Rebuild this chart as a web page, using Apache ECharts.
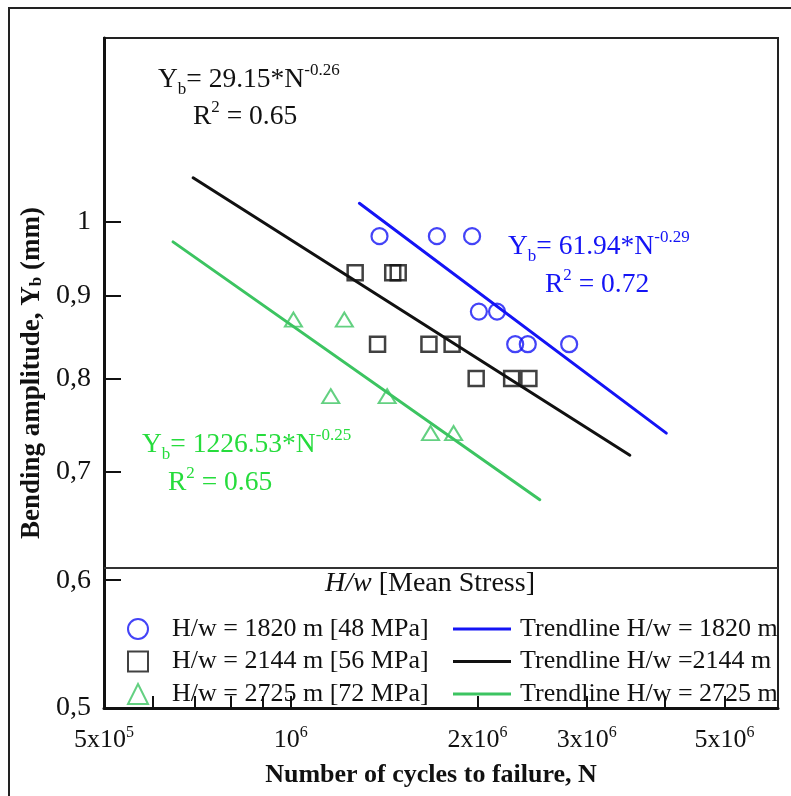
<!DOCTYPE html>
<html>
<head>
<meta charset="utf-8">
<script src="https://cdn.jsdelivr.net/npm/echarts@6/dist/echarts.min.js"></script>
<style>
  html, body { margin: 0; padding: 0; background: #fff; }
  #chart { width: 791px; height: 796px; }
</style>
</head>
<body>
<div id="chart"></div>
<script>
// Measured fatigue results: cycles to failure vs bending amplitude
const blueN  = [1.39e6, 1.72e6, 1.96e6, 2.01e6, 2.15e6, 2.30e6, 2.41e6, 2.81e6];
const blueY  = [0.98, 0.98, 0.98, 0.88, 0.88, 0.84, 0.84, 0.84];
const blackN = [1.27e6, 1.46e6, 1.49e6, 1.38e6, 1.67e6, 1.82e6, 1.99e6, 2.27e6, 2.42e6];
const blackY = [0.93, 0.93, 0.93, 0.84, 0.84, 0.84, 0.80, 0.80, 0.80];
const greenN = [1.01e6, 1.22e6, 1.16e6, 1.43e6, 1.68e6, 1.83e6];
const greenY = [0.87, 0.87, 0.78, 0.78, 0.74, 0.74];

// Power-law trendline end points
const blueTrendN  = [1.29e6, 4.03e6];
const blueTrendY  = [1.027, 0.740];
const blackTrendN = [6.96e5, 3.52e6];
const blackTrendY = [1.065, 0.717];
const greenTrendN = [6.46e5, 2.52e6];
const greenTrendY = [0.972, 0.673];

// Axis ticks and labels
const xLabelValues = [5e5, 1e6, 2e6, 3e6, 5e6];
const xLabelTexts  = ['5x10{sup|5}', '10{sup|6}', '2x10{sup|6}', '3x10{sup|6}', '5x10{sup|6}'];
const xTickValues  = [6e5, 7e5, 8e5, 9e5, 1e6, 2e6, 3e6, 4e6, 5e6];
const yLabelValues = [0.5, 0.6, 0.7, 0.8, 0.9, 1];
const yLabelTexts  = ['0,5', '0,6', '0,7', '0,8', '0,9', '1'];

// Series names
const seriesNames = [
  'H/w = 1820 m [48 MPa]',
  'H/w = 2144 m [56 MPa]',
  'H/w = 2725 m [72 MPa]',
  'Trendline H/w = 1820 m',
  'Trendline H/w =2144 m',
  'Trendline H/w = 2725 m'
];

const FONT = 'Liberation Serif';
const BLUE = '#1414f5';
const BLACK = '#111111';
const GREEN_MARK = '#3cc461';
const GREEN_TEXT = '#26dc3c';

const zip = (a, b) => a.map((v, i) => [v, b[i]]);
const labelFor = (values, texts) => v => {
  const i = values.findIndex(t => Math.abs(t - v) / t < 1e-6);
  return i >= 0 ? texts[i] : '';
};

const eqRich = color => ({
  sup: { fontFamily: FONT, fontSize: 17, lineHeight: 26, verticalAlign: 'top', color },
  sub: { fontFamily: FONT, fontSize: 17, lineHeight: 14, verticalAlign: 'bottom', color }
});
const eqText = (x, y, text, color) => ({
  type: 'text', left: x, top: y,
  style: {
    text, fill: color, font: '27.5px "' + FONT + '"', lineHeight: 36,
    rich: eqRich(color)
  }
});

const chart = echarts.init(document.getElementById('chart'), null, { renderer: 'canvas' });

const option = {
  backgroundColor: '#ffffff',
  animation: false,
  grid: {
    left: 104, top: 38, width: 674, height: 670,
    show: true, borderColor: '#222', borderWidth: 2,
    containLabel: false, outerBoundsMode: 'none'
  },
  xAxis: {
    type: 'log', logBase: 10, min: 5e5, max: 6.1e6,
    name: 'Number of cycles to failure, N',
    nameLocation: 'middle', nameGap: 54,
    nameTextStyle: { fontFamily: FONT, fontSize: 26, fontWeight: 'bold', color: '#111', padding: [0, 20, 0, 0] },
    axisLine: { show: true, lineStyle: { color: '#111', width: 3 } },
    axisTick: { show: true, inside: true, length: 12, lineStyle: { color: '#111', width: 2 }, customValues: xTickValues },
    minorTick: { show: false },
    splitLine: { show: false },
    axisLabel: {
      customValues: xLabelValues,
      formatter: labelFor(xLabelValues, xLabelTexts),
      fontFamily: FONT, fontSize: 26, color: '#111', margin: 17, lineHeight: 30,
      rich: { sup: { fontFamily: FONT, fontSize: 16, lineHeight: 22, verticalAlign: 'top', color: '#111' } }
    }
  },
  yAxis: {
    type: 'log', logBase: 10, min: 0.5, max: 1.3,
    name: 'Bending amplitude, Y{sub|b} (mm)',
    nameLocation: 'middle', nameGap: 58, nameRotate: 90,
    nameTextStyle: {
      fontFamily: FONT, fontSize: 27, fontWeight: 'bold', color: '#111',
      rich: { sub: { fontFamily: FONT, fontSize: 17, fontWeight: 'bold', lineHeight: 12, verticalAlign: 'bottom', color: '#111' } }
    },
    axisLine: { show: true, lineStyle: { color: '#111', width: 3 } },
    axisTick: { show: true, inside: true, length: 17, lineStyle: { color: '#111', width: 2 }, customValues: yLabelValues },
    minorTick: { show: false },
    splitLine: { show: false },
    axisLabel: {
      customValues: yLabelValues,
      formatter: labelFor(yLabelValues, yLabelTexts),
      fontFamily: FONT, fontSize: 28, color: '#111', margin: 13
    }
  },
  legend: [
    {
      data: seriesNames.slice(0, 3),
      orient: 'vertical', left: 122, top: 611,
      itemWidth: 20, itemHeight: 20, itemGap: 6.5,
      selectedMode: false,
      textStyle: { fontFamily: FONT, fontSize: 26, lineHeight: 26, color: '#111', padding: [0, 0, 0, 19] }
    },
    {
      data: seriesNames.slice(3),
      orient: 'vertical', left: 448, top: 611,
      itemWidth: 58, itemHeight: 3, itemGap: 6.5, icon: 'rect',
      selectedMode: false,
      textStyle: { fontFamily: FONT, fontSize: 26, lineHeight: 26, color: '#111', padding: [0, 0, 0, 4] }
    }
  ],
  graphic: [
    // outer frame
    { type: 'rect', shape: { x: 9, y: 8, width: 800, height: 800 }, style: { fill: 'none', stroke: '#222', lineWidth: 2 }, z: 0, silent: true },
    // legend box top edge
    { type: 'line', shape: { x1: 104, y1: 568, x2: 778, y2: 568 }, style: { stroke: '#333', lineWidth: 2 }, z: 5, silent: true },
    {
      type: 'text', left: 325, top: 570,
      style: {
        text: '{i|H/w} [Mean Stress]', fill: '#111', font: '28px "' + FONT + '"',
        rich: { i: { fontFamily: FONT, fontSize: 28, fontStyle: 'italic', color: '#111' } }
      }
    },
    eqText(158, 62, 'Y{sub|b}= 29.15*N{sup|-0.26}', BLACK),
    eqText(193, 99, 'R{sup|2} = 0.65', BLACK),
    eqText(508, 229, 'Y{sub|b}= 61.94*N{sup|-0.29}', BLUE),
    eqText(545, 267, 'R{sup|2} = 0.72', BLUE),
    eqText(142, 427, 'Y{sub|b}= 1226.53*N{sup|-0.25}', GREEN_TEXT),
    eqText(168, 465, 'R{sup|2} = 0.65', GREEN_TEXT)
  ],
  series: [
    {
      name: seriesNames[0], type: 'scatter', symbol: 'circle', symbolSize: 16,
      itemStyle: { color: 'rgba(255,255,255,0)', borderColor: BLUE, borderWidth: 2.2 },
      data: zip(blueN, blueY), z: 4
    },
    {
      name: seriesNames[1], type: 'scatter', symbol: 'rect', symbolSize: 15,
      itemStyle: { color: 'rgba(255,255,255,0)', borderColor: BLACK, borderWidth: 2.5 },
      data: zip(blackN, blackY), z: 4
    },
    {
      name: seriesNames[2], type: 'scatter', symbol: 'triangle', symbolSize: [17, 14],
      itemStyle: { color: 'rgba(255,255,255,0)', borderColor: GREEN_MARK, borderWidth: 2 },
      data: zip(greenN, greenY), z: 4
    },
    {
      name: seriesNames[3], type: 'line', symbol: 'none', color: BLUE,
      lineStyle: { color: BLUE, width: 3, cap: 'round' },
      data: zip(blueTrendN, blueTrendY), z: 3
    },
    {
      name: seriesNames[4], type: 'line', symbol: 'none', color: BLACK,
      lineStyle: { color: BLACK, width: 3, cap: 'round' },
      data: zip(blackTrendN, blackTrendY), z: 3
    },
    {
      name: seriesNames[5], type: 'line', symbol: 'none', color: GREEN_MARK,
      lineStyle: { color: GREEN_MARK, width: 3, cap: 'round' },
      data: zip(greenTrendN, greenTrendY), z: 3
    }
  ]
};

chart.setOption(option);
</script>
</body>
</html>
